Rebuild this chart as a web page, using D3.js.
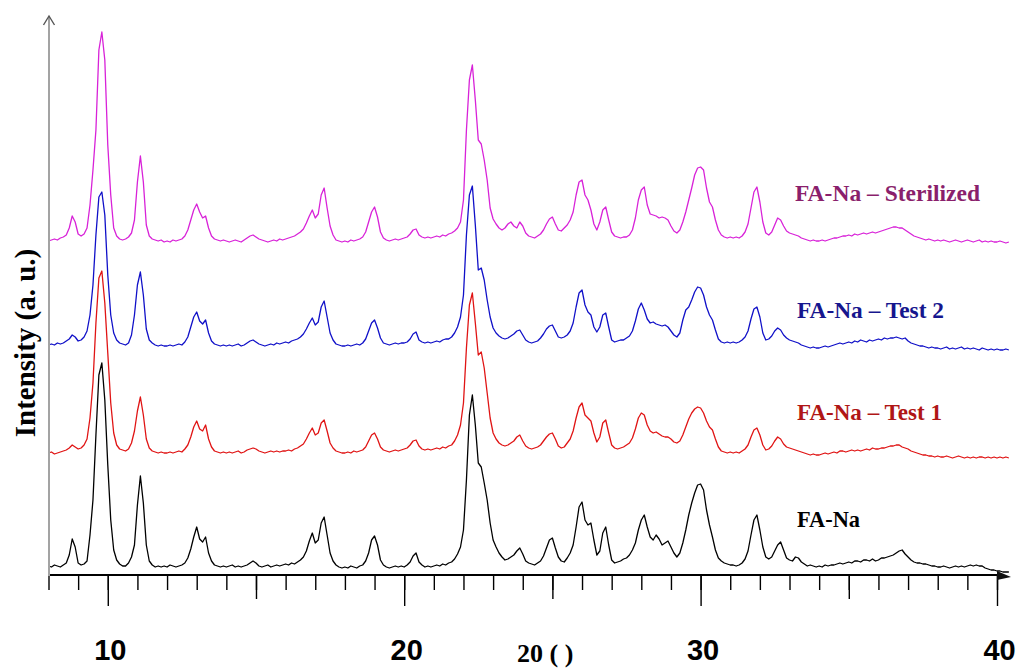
<!DOCTYPE html>
<html>
<meta charset='utf-8'>
<head>
<title>FA-Na XRD</title>
<script src='https://d3js.org/d3.v7.min.js'></script>
<style>
body { margin: 0; background: #fff; }
.serif { font-family: 'Liberation Serif', 'Times New Roman', serif; font-weight: bold; }
.sans { font-family: 'Liberation Sans', Arial, sans-serif; font-weight: bold; }
</style>
</head>
<body>
<div id='chart'></div>
<script>
// 2theta sampling: start 8.0 deg, one reading every 0.1 deg
var angleStart = 8.0, angleStep = 0.1;

// intensity readings (a.u.), one row per degree
var faNa = [
  9, 8, 10, 9, 8, 10, 12, 20, 36, 28,
  12, 10, 11, 14, 40, 75, 140, 200, 212, 175,
  110, 55, 25, 15, 11, 9, 9, 12, 18, 30,
  70, 99, 72, 30, 14, 10, 8, 9, 8, 9,
  8, 10, 9, 8, 9, 10, 12, 17, 26, 38,
  48, 36, 33, 38, 22, 14, 10, 9, 8, 9,
  8, 9, 10, 8, 9, 8, 9, 10, 12, 14,
  12, 9, 8, 9, 10, 8, 9, 10, 9, 10,
  11, 10, 12, 11, 13, 15, 18, 24, 34, 42,
  32, 35, 52, 58, 40, 22, 14, 10, 8, 7,
  8, 7, 9, 8, 7, 9, 10, 14, 22, 35,
  39, 30, 15, 10, 8, 7, 8, 9, 8, 9,
  8, 10, 13, 19, 22, 13, 10, 8, 9, 8,
  9, 10, 9, 11, 10, 12, 13, 16, 21, 28,
  45, 95, 160, 180, 150, 112, 108, 92, 75, 52,
  35, 28, 22, 18, 15, 16, 18, 20, 24, 27,
  21, 14, 12, 11, 10, 12, 14, 19, 27, 35,
  37, 27, 18, 14, 13, 17, 22, 30, 48, 68,
  73, 55, 50, 52, 35, 20, 24, 42, 48, 30,
  15, 12, 13, 14, 16, 17, 20, 25, 32, 45,
  55, 60, 48, 38, 35, 40, 36, 30, 32, 34,
  28, 22, 18, 22, 32, 45, 60, 72, 82, 90,
  91, 85, 65, 50, 38, 25, 17, 14, 12, 11,
  10, 10, 9, 10, 12, 16, 24, 40, 55, 60,
  45, 28, 18, 16, 18, 24, 30, 33, 25, 17,
  15, 14, 18, 17, 13, 11, 9, 10, 9, 8,
  9, 8, 10, 9, 10, 10, 11, 12, 11, 12,
  13, 12, 14, 14, 13, 15, 15, 14, 16, 14,
  15, 17, 17, 18, 19, 20, 22, 24, 25, 21,
  18, 15, 13, 12, 12, 11, 11, 10, 9, 9,
  8, 8, 9, 8, 7, 8, 9, 8, 9, 8,
  9, 10, 9, 10, 9, 9, 7, 6, 5, 5,
  4, 4, 3, 3, 3
];

var test1 = [
  10, 11, 9, 10, 11, 12, 13, 15, 18, 16,
  14, 15, 18, 24, 45, 80, 140, 185, 192, 160,
  110, 60, 30, 18, 14, 13, 12, 14, 20, 32,
  52, 66, 48, 24, 15, 12, 11, 10, 11, 10,
  10, 11, 10, 11, 12, 11, 14, 18, 26, 36,
  42, 34, 32, 38, 24, 16, 12, 11, 10, 11,
  10, 11, 10, 11, 12, 10, 11, 13, 14, 15,
  14, 12, 11, 10, 11, 12, 11, 12, 11, 12,
  12, 13, 12, 14, 15, 17, 19, 24, 30, 35,
  28, 30, 40, 43, 32, 20, 15, 12, 11, 10,
  10, 11, 10, 12, 11, 12, 13, 16, 22, 28,
  30, 24, 16, 13, 12, 11, 12, 13, 12, 13,
  14, 15, 18, 22, 23, 17, 14, 13, 14, 13,
  14, 15, 14, 16, 15, 17, 18, 22, 28, 38,
  60, 115, 158, 170, 140, 108, 111, 95, 70, 45,
  30, 24, 20, 18, 17, 18, 20, 22, 26, 28,
  22, 17, 15, 14, 15, 16, 18, 22, 26, 29,
  30, 24, 17, 15, 16, 20, 24, 32, 45, 56,
  60, 48, 45, 42, 30, 21, 26, 40, 43, 30,
  18, 15, 14, 15, 16, 18, 20, 25, 34, 45,
  50, 48, 38, 32, 30, 31, 29, 27, 26, 26,
  24, 21, 20, 22, 28, 36, 44, 50, 54, 56,
  55, 50, 42, 36, 33, 24, 16, 12, 11, 10,
  11, 10, 11, 10, 12, 14, 18, 26, 33, 35,
  28, 18, 13, 14, 17, 22, 26, 24, 19, 16,
  15, 14, 13, 12, 11, 10, 9, 8, 9, 8,
  8, 9, 10, 9, 10, 11, 10, 12, 12, 11,
  12, 13, 12, 13, 12, 13, 14, 13, 15, 14,
  14, 15, 15, 16, 17, 17, 18, 18, 16, 15,
  14, 12, 11, 10, 9, 8, 8, 7, 7, 6,
  7, 6, 6, 7, 6, 5, 6, 7, 6, 5,
  6, 5, 6, 5, 6, 6, 5, 6, 5, 6,
  5, 6, 5, 6, 5
];

var test2 = [
  10, 11, 10, 12, 11, 12, 14, 16, 20, 18,
  14, 15, 18, 24, 40, 70, 120, 158, 163, 140,
  80, 40, 22, 15, 12, 11, 10, 12, 20, 40,
  70, 83, 60, 26, 15, 12, 10, 9, 10, 9,
  9, 10, 9, 10, 11, 10, 13, 18, 28, 38,
  43, 34, 31, 35, 22, 14, 11, 10, 9, 10,
  9, 10, 9, 10, 11, 9, 10, 12, 14, 15,
  13, 11, 10, 9, 10, 11, 10, 12, 11, 12,
  13, 12, 14, 15, 16, 18, 21, 26, 32, 37,
  30, 33, 48, 54, 38, 22, 15, 11, 10, 9,
  9, 10, 9, 10, 11, 10, 12, 16, 24, 32,
  35, 27, 17, 12, 11, 10, 11, 12, 11, 12,
  12, 13, 16, 21, 23, 15, 13, 12, 13, 12,
  13, 14, 13, 15, 16, 16, 18, 22, 28, 38,
  60, 120, 160, 169, 130, 85, 87, 75, 55, 38,
  27, 22, 19, 17, 16, 17, 19, 21, 24, 25,
  20, 15, 13, 12, 13, 14, 17, 21, 26, 29,
  30, 24, 18, 17, 18, 20, 24, 32, 48, 62,
  65, 50, 43, 40, 28, 23, 28, 40, 42, 28,
  15, 13, 14, 15, 15, 17, 19, 24, 34, 46,
  52, 45, 36, 32, 33, 31, 30, 29, 30, 28,
  24, 20, 18, 22, 35, 45, 48, 55, 63, 68,
  67, 60, 48, 40, 35, 25, 16, 13, 12, 13,
  12, 13, 12, 13, 15, 18, 24, 36, 46, 48,
  38, 22, 15, 16, 19, 24, 27, 25, 20, 17,
  15, 14, 13, 12, 10, 9, 8, 7, 8, 7,
  7, 8, 9, 8, 9, 10, 11, 12, 11, 12,
  13, 12, 14, 13, 15, 14, 13, 15, 14, 15,
  16, 15, 17, 16, 17, 17, 18, 17, 16, 17,
  14, 12, 11, 10, 9, 9, 8, 7, 8, 7,
  7, 6, 7, 8, 6, 7, 6, 7, 8, 6,
  7, 6, 7, 6, 5, 7, 6, 5, 6, 5,
  6, 5, 5, 6, 5
];

var sterilized = [
  9, 10, 11, 10, 12, 13, 15, 22, 34, 28,
  16, 14, 16, 22, 45, 80, 120, 200, 218, 190,
  105, 55, 22, 14, 11, 10, 11, 13, 17, 30,
  68, 94, 68, 25, 14, 11, 10, 9, 10, 8,
  9, 8, 10, 9, 10, 11, 14, 20, 30, 40,
  46, 38, 32, 34, 22, 14, 11, 10, 9, 10,
  9, 8, 9, 10, 9, 8, 10, 12, 14, 15,
  13, 11, 10, 9, 8, 9, 10, 9, 11, 10,
  11, 12, 13, 14, 16, 18, 21, 27, 34, 40,
  32, 36, 55, 62, 42, 24, 15, 10, 9, 8,
  9, 8, 10, 9, 10, 11, 13, 18, 28, 38,
  43, 33, 18, 12, 10, 9, 10, 11, 10, 11,
  12, 13, 16, 20, 21, 15, 13, 12, 13, 12,
  13, 14, 13, 15, 14, 16, 17, 19, 22, 28,
  50, 120, 170, 185, 150, 110, 106, 90, 70, 42,
  31, 26, 22, 20, 22, 26, 28, 24, 22, 28,
  24, 17, 14, 13, 12, 14, 16, 20, 26, 31,
  33, 26, 20, 19, 22, 25, 30, 38, 55, 68,
  70, 55, 50, 40, 26, 20, 28, 40, 43, 30,
  18, 14, 13, 12, 13, 13, 15, 20, 32, 50,
  60, 63, 45, 36, 35, 34, 32, 33, 32, 30,
  24, 19, 17, 20, 28, 38, 50, 62, 75, 82,
  83, 80, 62, 48, 43, 30, 20, 15, 13, 12,
  13, 12, 13, 12, 14, 18, 26, 42, 58, 63,
  48, 28, 17, 15, 18, 25, 32, 30, 24, 19,
  17, 16, 15, 14, 12, 11, 10, 9, 10, 9,
  9, 10, 9, 10, 11, 12, 12, 13, 14, 14,
  15, 14, 16, 15, 16, 17, 16, 17, 18, 17,
  18, 19, 20, 21, 22, 23, 23, 22, 22, 20,
  18, 16, 14, 13, 12, 11, 10, 11, 10, 9,
  10, 9, 10, 9, 8, 9, 10, 9, 8, 9,
  10, 9, 8, 9, 10, 8, 9, 8, 9, 8,
  8, 9, 8, 7, 8
];

var seriesNames = ['FA-Na', 'FA-Na \u2013 Test 1', 'FA-Na \u2013 Test 2', 'FA-Na \u2013 Sterilized'];
var seriesValues = [faNa, test1, test2, sterilized];
var seriesOffsets = [0, 112, 220, 325];   // vertical stacking of the patterns (a.u.)
var majorTicks = [10, 20, 30, 40];
var midTicks = [15, 25, 35];
var minorTicks = d3.range(8, 41);

// styling
var lineColors = ['#000000', '#e01414', '#1010c8', '#d822d8'];
var labelColors = ['#000000', '#b01616', '#16168e', '#8a1f6c'];
var labelPos = [[797, 527, 63], [797, 420, 145], [797, 318, 147], [795, 201, 185]];

var width = 1016, height = 670;

var svg = d3.select('#chart')
    .append('svg')
    .attr('width', width)
    .attr('height', height)
    .style('background', '#fff');

var x = d3.scaleLinear().domain([8, 40]).range([48.5, 997]);
var y = d3.scaleLinear().domain([0, 560]).range([575, 15]);

// traces
var line = d3.line()
    .x(function(d, i) { return x(angleStart + i * angleStep); });

seriesValues.forEach(function(vals, k) {
    svg.append('path')
        .datum(vals)
        .attr('d', line.y(function(d) { return y(d + seriesOffsets[k]); }))
        .style('fill', 'none')
        .style('stroke', lineColors[k])
        .style('stroke-width', 1.3)
        .style('stroke-linejoin', 'round');
});

// x axis: three tick lengths
function tickAxis(values, size, pad) {
    return d3.axisBottom(x).tickValues(values).tickSize(size).tickPadding(pad);
}

svg.append('g')
    .attr('transform', 'translate(0,575)')
    .call(tickAxis(minorTicks, 15, 0).tickFormat(''))
    .call(function(g) { g.select('.domain').remove(); });

svg.append('g')
    .attr('transform', 'translate(0,575)')
    .call(tickAxis(midTicks, 24, 0).tickFormat(''))
    .call(function(g) { g.select('.domain').remove(); });

svg.append('g')
    .attr('class', 'sans')
    .attr('transform', 'translate(0,575)')
    .call(tickAxis(majorTicks, 31, 33).tickFormat(d3.format('d')))
    .call(function(g) {
        g.select('.domain').remove();
        g.selectAll('text').attr('font-size', 29).attr('fill', '#000').attr('dx', 2);
    });

svg.selectAll('.tick line').style('stroke', '#000').style('stroke-width', 1.4);

// axis lines with arrows
svg.append('line')
    .attr('x1', 48).attr('y1', 575).attr('x2', 1004).attr('y2', 575)
    .style('stroke', '#000').style('stroke-width', 2);
svg.append('path')
    .attr('d', 'M997,571 L1011,577 L997,580 Z')
    .style('fill', '#111');

svg.append('line')
    .attr('x1', 49).attr('y1', 576).attr('x2', 49).attr('y2', 17)
    .style('stroke', '#a3a3a3').style('stroke-width', 2);
svg.append('path')
    .attr('d', 'M43.5,25 L49,16 L54.5,25')
    .style('fill', 'none').style('stroke', '#555').style('stroke-width', 1.4);

// axis titles
svg.append('text')
    .attr('class', 'serif')
    .attr('transform', 'translate(35,343) rotate(-90)')
    .attr('text-anchor', 'middle')
    .attr('font-size', 29)
    .text('Intensity (a. u.)');

svg.append('text')
    .attr('class', 'serif')
    .attr('x', 517)
    .attr('y', 662)
    .attr('font-size', 26)
    .text('20 ( )');

// series labels
svg.selectAll('.series-label')
    .data(seriesNames)
    .enter()
    .append('text')
    .attr('class', 'serif series-label')
    .attr('x', function(d, i) { return labelPos[i][0]; })
    .attr('y', function(d, i) { return labelPos[i][1]; })
    .attr('textLength', function(d, i) { return labelPos[i][2]; })
    .attr('lengthAdjust', 'spacingAndGlyphs')
    .attr('font-size', 23)
    .style('fill', function(d, i) { return labelColors[i]; })
    .text(function(d) { return d; });
</script>
</body>
</html>
